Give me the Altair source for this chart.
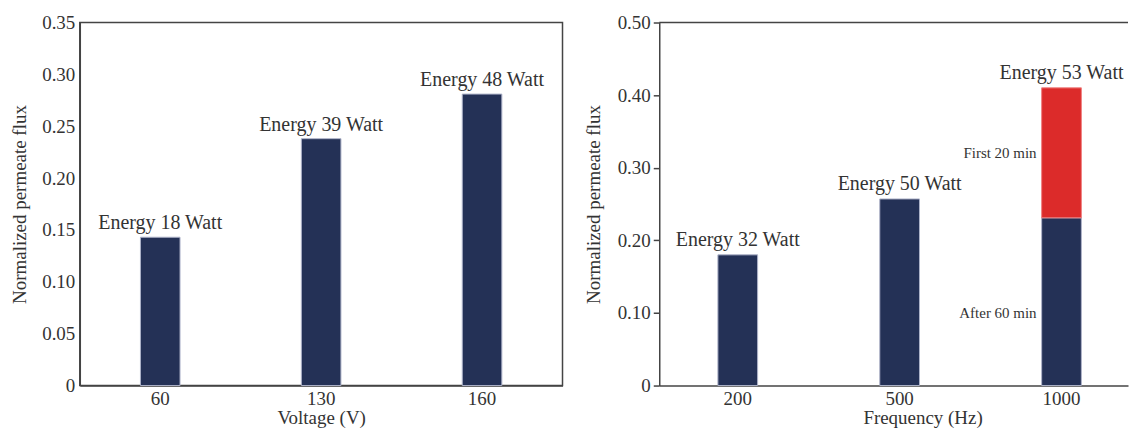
import altair as alt
import pandas as pd

# ---- data ----
voltage = ["60", "130", "160"]
flux_voltage = [0.143, 0.238, 0.281]
energy_voltage = ["Energy 18 Watt", "Energy 39 Watt", "Energy 48 Watt"]

frequency = ["200", "500", "1000"]
flux_after = [0.180, 0.257, 0.231]       # navy part (after 60 min)
flux_first = [None, None, 0.410]          # top of red part (first 20 min)
energy_freq = ["Energy 32 Watt", "Energy 50 Watt", "Energy 53 Watt"]
energy_freq_top = [0.180, 0.257, 0.410]

ann_text = ["First 20 min", "After 60 min"]
ann_y = [0.32, 0.10]

NAVY = "#243156"
RED = "#dc2b2a"
TXT = "#333333"
FONT = "Liberation Serif"

dv = pd.DataFrame({"x": voltage, "y": flux_voltage, "label": energy_voltage})
df = pd.DataFrame({"x": frequency, "y": flux_after, "top": flux_first,
                   "label": energy_freq, "ltop": energy_freq_top})
dred = df.dropna(subset=["top"])
dann = pd.DataFrame({"x": ["1000"] * 2, "y": ann_y, "t": ann_text})

# ---- left panel ----
xv = alt.X("x:N", sort=voltage, title="Voltage (V)",
           scale=alt.Scale(paddingInner=0.754, paddingOuter=0.377),
           axis=alt.Axis(labelAngle=0, ticks=False, domain=True, labelPadding=4,
                         titlePadding=0))
yv = alt.Y("y:Q", title="Normalized permeate flux",
           scale=alt.Scale(domain=[0, 0.35], nice=False),
           axis=alt.Axis(values=[0, 0.05, 0.1, 0.15, 0.2, 0.25, 0.3, 0.35],
                         labelExpr="datum.value == 0 ? '0' : format(datum.value, '.2f')",
                         ticks=False, grid=False, labelPadding=5, titlePadding=12))

left_bars = alt.Chart(dv).mark_bar(color=NAVY, stroke="#aeb3c9", strokeWidth=1).encode(x=xv, y=yv)
left_text = alt.Chart(dv).mark_text(baseline="alphabetic", dy=-8, fontSize=20, font=FONT,
                                    color=TXT).encode(x=alt.X("x:N", sort=voltage),
                                                      y="y:Q", text="label:N")
left = alt.layer(left_bars, left_text).properties(width=484, height=364)

# ---- right panel ----
xf = alt.X("x:N", sort=frequency, title="Frequency (Hz)",
           scale=alt.Scale(paddingInner=0.7546, paddingOuter=0.3252, align=0.557),
           axis=alt.Axis(labelAngle=0, ticks=False, domain=True, labelPadding=4,
                         titlePadding=0, titleX=264))
yf = alt.Y("y:Q", title="Normalized permeate flux",
           scale=alt.Scale(domain=[0, 0.5], nice=False),
           axis=alt.Axis(values=[0, 0.1, 0.2, 0.3, 0.4, 0.5],
                         labelExpr="datum.value == 0 ? '0' : format(datum.value, '.2f')",
                         ticks=True, tickSize=6, tickColor="#444444", tickWidth=1.5,
                         grid=False, labelPadding=3, titlePadding=14))

r_bars = alt.Chart(df).mark_bar(color=NAVY, stroke="#aeb3c9", strokeWidth=1).encode(x=xf, y=yf)
r_red = alt.Chart(dred).mark_bar(color=RED, stroke="#f08080", strokeWidth=1).encode(
    x=alt.X("x:N", sort=frequency), y="y:Q", y2="top:Q")
r_text = alt.Chart(df).mark_text(baseline="alphabetic", dy=-9, fontSize=20, font=FONT,
                                 color=TXT).encode(x=alt.X("x:N", sort=frequency),
                                                   y="ltop:Q", text="label:N")
r_ann = alt.Chart(dann).mark_text(align="right", baseline="middle", dx=-25, fontSize=15,
                                  font=FONT, color=TXT).encode(
    x=alt.X("x:N", sort=frequency), y="y:Q", text="t:N")
r_top = alt.Chart(pd.DataFrame({"v": [0.5]})).mark_rule(color="#444444", strokeWidth=1.5).encode(
    y=alt.Y("v:Q"))
right = alt.layer(r_bars, r_red, r_text, r_ann, r_top).properties(
    width=470, height=364, view=alt.ViewBackground(stroke="transparent"))

chart = alt.hconcat(left, right, spacing=20).properties(
    padding={"left": 10, "top": 12, "right": 0, "bottom": 0}, background="white"
).configure_view(stroke="#444444", strokeWidth=1.5).configure_axis(
    labelFont=FONT, titleFont=FONT, labelFontSize=19, titleFontSize=19,
    labelColor=TXT, titleColor=TXT, titleFontWeight="normal",
    domainColor="#444444", domainWidth=1.5
)

chart.save("out.html", embed_options={"renderer": "svg", "actions": False})
